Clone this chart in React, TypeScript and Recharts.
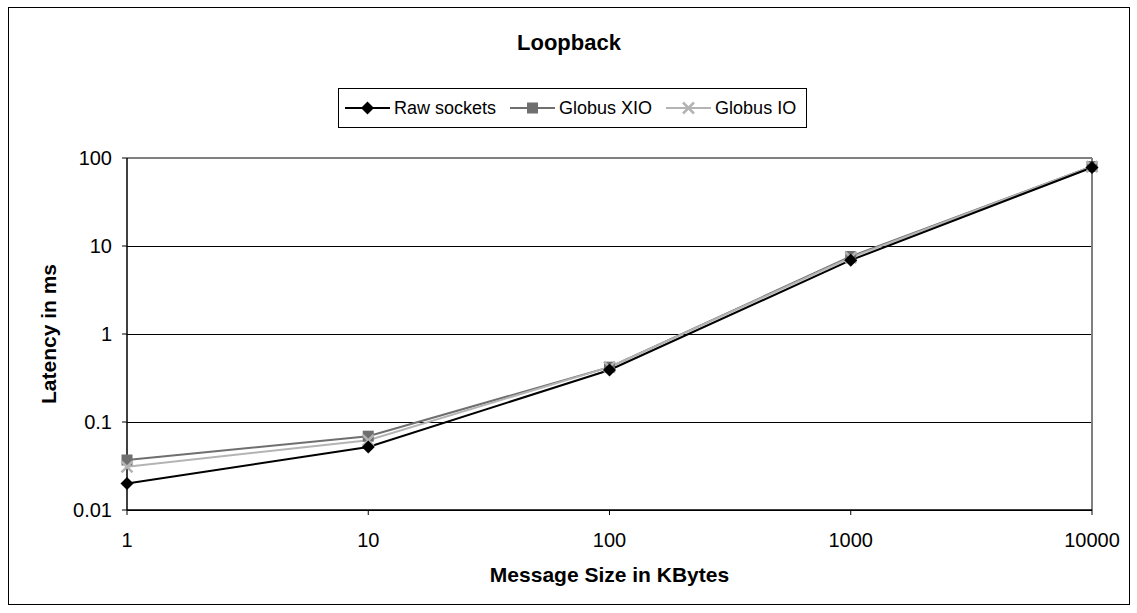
import React from 'react';
import {
  LineChart,
  Line,
  XAxis,
  YAxis,
  CartesianGrid,
  ReferenceLine,
} from 'recharts';

const sizes = ['1', '10', '100', '1000', '10000'];
const rawSockets = [0.02, 0.052, 0.39, 6.9, 78];
const globusXio = [0.037, 0.069, 0.42, 7.6, 80];
const globusIo = [0.031, 0.062, 0.42, 7.4, 80];
const latencyTicks = [0.01, 0.1, 1, 10, 100];

const FONT = "Arial, 'Liberation Sans', sans-serif";
const RAW = '#000000';
const XIO = '#6f6f6f';
const IO = '#b4b4b4';

const data = sizes.map((s, i) => ({
  size: s,
  raw: rawSockets[i],
  xio: globusXio[i],
  io: globusIo[i],
}));

const Diamond = ({ cx, cy, color }: any) => (
  <path d={`M${cx},${cy - 6.5} L${cx + 6.5},${cy} L${cx},${cy + 6.5} L${cx - 6.5},${cy} Z`} fill={color} />
);
const Square = ({ cx, cy, color }: any) => (
  <rect x={cx - 5.5} y={cy - 5.5} width={11} height={11} fill={color} />
);
const Cross = ({ cx, cy, color }: any) => (
  <path d={`M${cx - 5.5},${cy - 5.5} L${cx + 5.5},${cy + 5.5} M${cx + 5.5},${cy - 5.5} L${cx - 5.5},${cy + 5.5}`} stroke={color} strokeWidth={2.5} fill="none" />
);

const LegendItem = ({ color, marker, label }: any) => (
  <div style={{ display: 'flex', alignItems: 'center', marginRight: 14, flexShrink: 0, whiteSpace: 'nowrap' }}>
    <svg width={45} height={16}>
      <line x1={0} y1={8} x2={45} y2={8} stroke={color} strokeWidth={2} />
      {marker === 'diamond' && <Diamond cx={22.5} cy={8} color={color} />}
      {marker === 'square' && <Square cx={22.5} cy={8} color={color} />}
      {marker === 'cross' && <Cross cx={22.5} cy={8} color={color} />}
    </svg>
    <span style={{ fontSize: 18, color: '#000', marginLeft: 4, lineHeight: '20px' }}>{label}</span>
  </div>
);

const GridLine = (p: any) => (
  <line
    key={p.key}
    x1={p.x1}
    x2={p.x2}
    y1={Math.round(p.y1) + 0.5}
    y2={Math.round(p.y2) + 0.5}
    stroke="#000"
    strokeWidth={1}
  />
);

export default function App() {
  return (
    <div
      style={{
        position: 'absolute',
        left: 8,
        top: 7,
        width: 1122,
        height: 598,
        border: '1px solid #000',
        boxSizing: 'border-box',
        background: '#fff',
        fontFamily: FONT,
      }}
    >
      <div
        style={{
          position: 'absolute',
          top: 22,
          left: 0,
          width: '100%',
          textAlign: 'center',
          fontWeight: 'bold',
          fontSize: 22,
          lineHeight: '26px',
        }}
      >
        Loopback
      </div>
      <div
        style={{
          position: 'absolute',
          left: 329,
          top: 80,
          width: 469,
          height: 40,
          border: '1px solid #000',
          boxSizing: 'border-box',
          display: 'flex',
          alignItems: 'center',
          paddingLeft: 6,
          overflow: 'hidden',
        }}
      >
        <LegendItem color={RAW} marker="diamond" label="Raw sockets" />
        <LegendItem color={XIO} marker="square" label="Globus XIO" />
        <LegendItem color={IO} marker="cross" label="Globus IO" />
      </div>
      <LineChart
        width={1120}
        height={596}
        data={data}
        margin={{ top: 150, right: 37, bottom: 64, left: 68 }}
      >
        <CartesianGrid horizontal={GridLine} vertical={false} />
        <XAxis
          dataKey="size"
          type="category"
          height={30}
          axisLine={{ stroke: '#000', strokeWidth: 1.5 }}
          tickLine={{ stroke: '#000' }}
          tickSize={5}
          tickMargin={18}
          tick={{ fill: '#000', fontSize: 20, fontFamily: FONT }}
          label={{
            value: 'Message Size in KBytes',
            position: 'insideBottom',
            offset: -42,
            fill: '#000',
            fontSize: 21,
            fontWeight: 'bold',
            fontFamily: FONT,
          }}
        />
        <YAxis
          scale="log"
          domain={[0.01, 100]}
          ticks={latencyTicks}
          allowDataOverflow
          width={50}
          axisLine={{ stroke: '#000', strokeWidth: 1.5 }}
          tickLine={{ stroke: '#000' }}
          tickSize={5}
          tickMargin={10}
          tickFormatter={(v: number) => String(v)}
          tick={{ fill: '#000', fontSize: 20, fontFamily: FONT }}
          label={{
            value: 'Latency in ms',
            angle: -90,
            position: 'insideLeft',
            offset: -28,
            style: { textAnchor: 'middle' },
            fill: '#000',
            fontSize: 21,
            fontWeight: 'bold',
            fontFamily: FONT,
          }}
        />
        <ReferenceLine y={100} stroke="#808080" strokeWidth={2} />
        <ReferenceLine x="10000" stroke="#808080" strokeWidth={2} />
        <Line
          dataKey="xio"
          stroke={XIO}
          strokeWidth={2}
          isAnimationActive={false}
          dot={(p: any) => <Square key={`x${p.index}`} cx={p.cx} cy={p.cy} color={XIO} />}
        />
        <Line
          dataKey="io"
          stroke={IO}
          strokeWidth={2}
          isAnimationActive={false}
          dot={(p: any) => <Cross key={`i${p.index}`} cx={p.cx} cy={p.cy} color={IO} />}
        />
        <Line
          dataKey="raw"
          stroke={RAW}
          strokeWidth={2}
          isAnimationActive={false}
          dot={(p: any) => <Diamond key={`r${p.index}`} cx={p.cx} cy={p.cy} color={RAW} />}
        />
      </LineChart>
    </div>
  );
}
